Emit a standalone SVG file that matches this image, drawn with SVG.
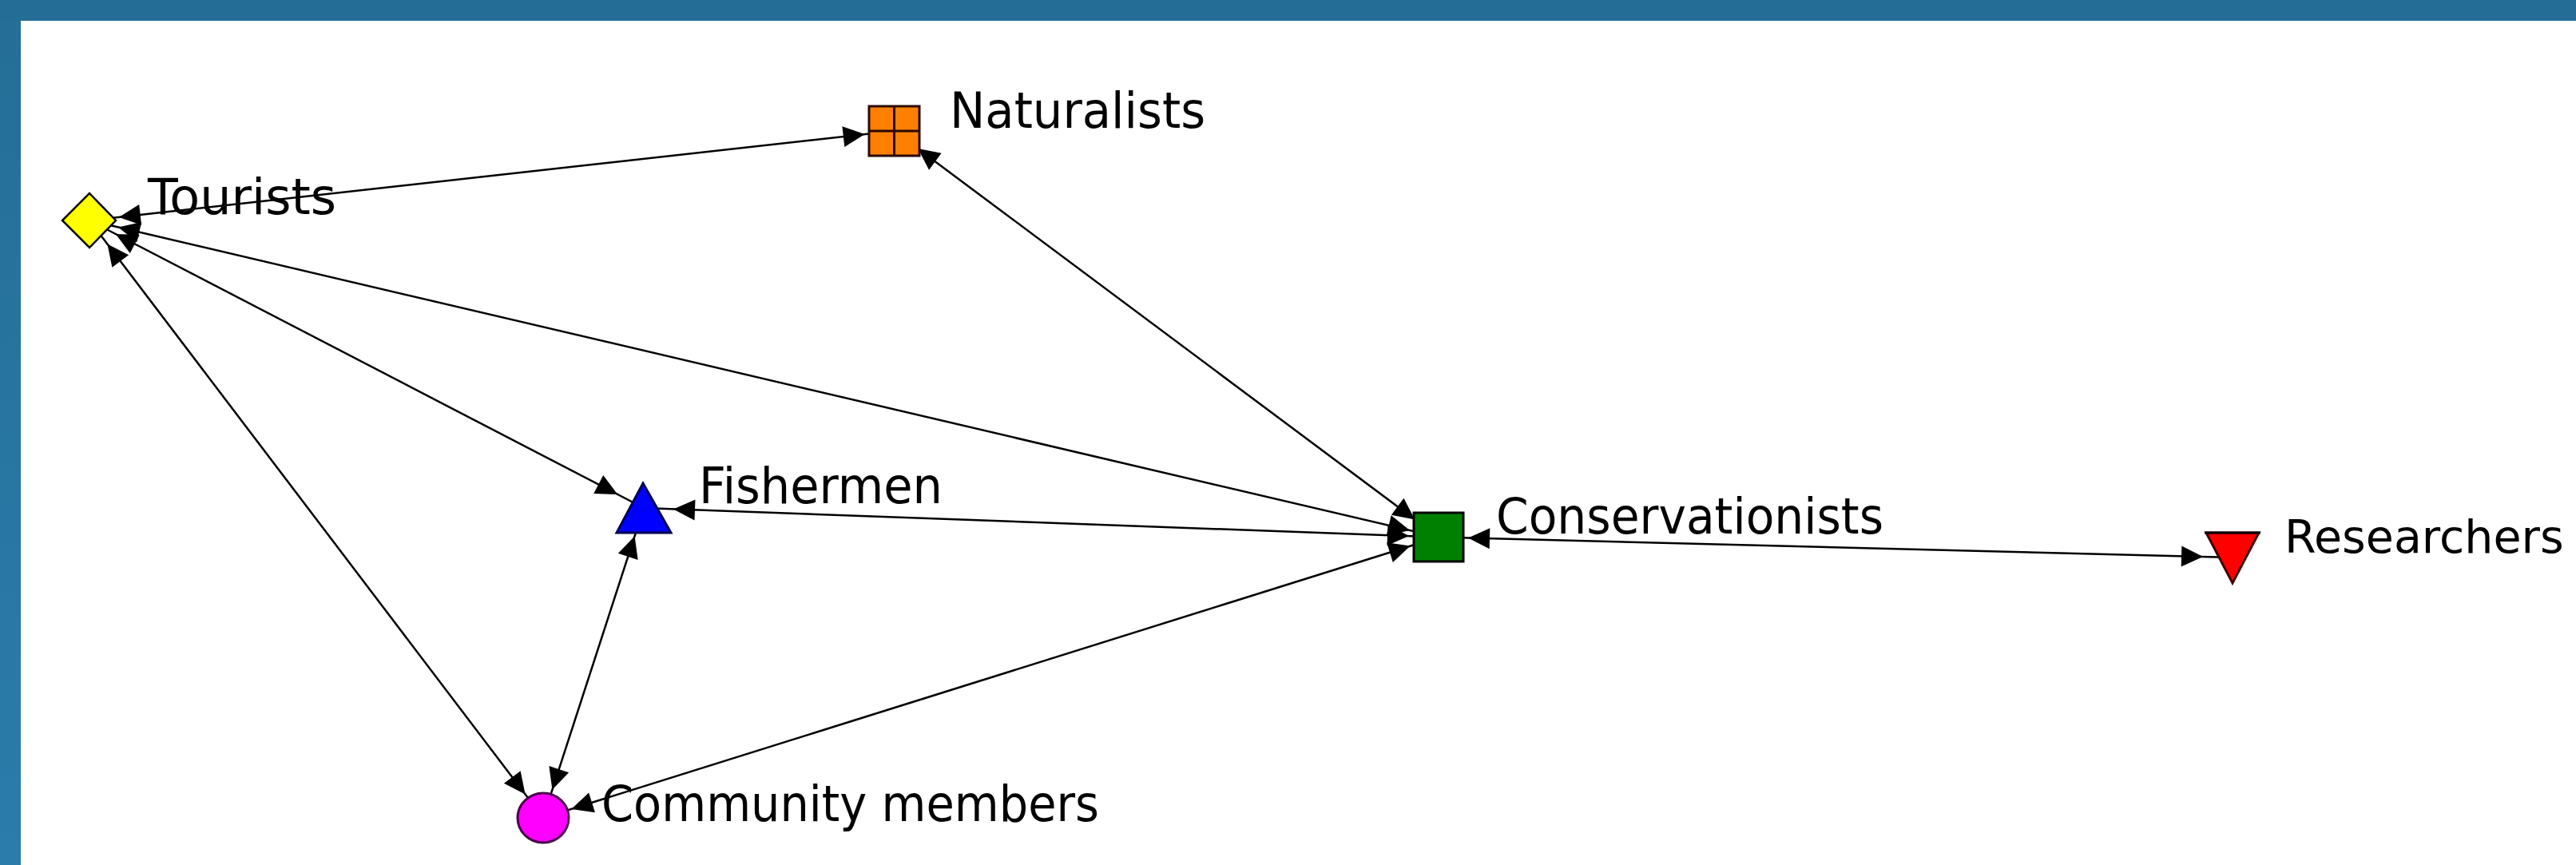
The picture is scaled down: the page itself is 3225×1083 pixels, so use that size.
<svg xmlns="http://www.w3.org/2000/svg" xmlns:xlink="http://www.w3.org/1999/xlink" width="3225" height="1083" viewBox="0 0 3225 1083">
  <defs>
    <linearGradient id="sideBand" x1="0" y1="0" x2="0" y2="1">
      <stop offset="0" stop-color="#246e97"/>
      <stop offset="1" stop-color="#2b7cab"/>
    </linearGradient>
    <!-- arrowhead: tip at origin, pointing along +x -->
    <polygon id="ah" points="0,0 -27,-13 -27,13" fill="#000"/>
  </defs>
  <style>
    .edge { stroke: #000; stroke-width: 2.5; fill: none; }
    .label { font-family: "DejaVu Sans", Verdana, sans-serif; font-size: 62px; fill: #000; }
    .label.narrow { font-size: 57px; }
  </style>

  <!-- page frame -->
  <rect x="0" y="0" width="3225" height="1083" fill="#ffffff"/>
  <rect x="0" y="0" width="26" height="1083" fill="url(#sideBand)"/>
  <rect x="0" y="0" width="3225" height="26" fill="#236d97"/>

  <g id="connectors">
    <!-- Tourists - Naturalists -->
    <line class="edge" x1="112" y1="276" x2="1119.5" y2="164"/>
    <use xlink:href="#ah" transform="translate(1082.7,168.1) rotate(-6.34)"/>
    <use xlink:href="#ah" transform="translate(148.8,271.9) rotate(173.66)"/>
    <!-- Tourists - Fishermen -->
    <line class="edge" x1="112" y1="276" x2="806" y2="636"/>
    <use xlink:href="#ah" transform="translate(773.2,619) rotate(27.42)"/>
    <use xlink:href="#ah" transform="translate(144.8,293) rotate(207.42)"/>
    <!-- Tourists - Conservationists -->
    <line class="edge" x1="112" y1="276" x2="1801" y2="672.5"/>
    <use xlink:href="#ah" transform="translate(1765,664) rotate(13.21)"/>
    <use xlink:href="#ah" transform="translate(148,284.5) rotate(193.21)"/>
    <!-- Tourists - Community members -->
    <line class="edge" x1="112" y1="276" x2="680" y2="1024"/>
    <use xlink:href="#ah" transform="translate(657.6,994.5) rotate(52.78)"/>
    <use xlink:href="#ah" transform="translate(134.4,305.5) rotate(232.78)"/>
    <!-- Naturalists - Conservationists -->
    <line class="edge" x1="1119.5" y1="164" x2="1801" y2="672.5"/>
    <use xlink:href="#ah" transform="translate(1771.3,650.4) rotate(36.73)"/>
    <use xlink:href="#ah" transform="translate(1149.2,186.1) rotate(216.73)"/>
    <!-- Fishermen - Conservationists -->
    <line class="edge" x1="806" y1="636" x2="1801" y2="672.5"/>
    <use xlink:href="#ah" transform="translate(1764,671.1) rotate(2.1)"/>
    <use xlink:href="#ah" transform="translate(843,637.4) rotate(182.1)"/>
    <!-- Fishermen - Community members -->
    <line class="edge" x1="806" y1="636" x2="680" y2="1024"/>
    <use xlink:href="#ah" transform="translate(691.4,988.8) rotate(108)"/>
    <use xlink:href="#ah" transform="translate(794.6,671.2) rotate(288)"/>
    <!-- Community members - Conservationists -->
    <line class="edge" x1="680" y1="1024" x2="1801" y2="672.5"/>
    <use xlink:href="#ah" transform="translate(1765.7,683.6) rotate(-17.41)"/>
    <use xlink:href="#ah" transform="translate(715.3,1012.9) rotate(162.59)"/>
    <!-- Conservationists - Researchers -->
    <line class="edge" x1="1801" y1="672.5" x2="2795" y2="698"/>
    <use xlink:href="#ah" transform="translate(2758,697.1) rotate(1.47)"/>
    <use xlink:href="#ah" transform="translate(1838,673.5) rotate(181.47)"/>
  </g>

  <g id="tourists">
    <polygon points="112,242 145,276 112,310 78,276" fill="#ffff00" stroke="#000" stroke-width="2.5"/>
    <text class="label" x="185" y="268" textLength="236" lengthAdjust="spacingAndGlyphs">Tourists</text>
  </g>

  <g id="naturalists">
    <rect x="1088" y="133" width="63" height="62" fill="#ff8000" stroke="#2a0800" stroke-width="3"/>
    <line x1="1119.5" y1="133" x2="1119.5" y2="195" stroke="#2a0800" stroke-width="3"/>
    <line x1="1088" y1="164" x2="1151" y2="164" stroke="#2a0800" stroke-width="3"/>
    <text class="label" x="1189" y="160" textLength="320" lengthAdjust="spacingAndGlyphs">Naturalists</text>
  </g>

  <g id="fishermen">
    <polygon points="805,605 840,667 772,667" fill="#0000ff" stroke="#000050" stroke-width="3"/>
    <text class="label" x="875" y="630" textLength="305" lengthAdjust="spacingAndGlyphs">Fishermen</text>
  </g>

  <g id="community-members">
    <ellipse cx="680" cy="1024" rx="32" ry="31" fill="#ff00ff" stroke="#4a004a" stroke-width="3"/>
    <text class="label" x="753" y="1028" textLength="623" lengthAdjust="spacingAndGlyphs">Community members</text>
  </g>

  <g id="conservationists">
    <rect x="1770" y="642" width="62" height="61" fill="#008000" stroke="#000" stroke-width="3"/>
    <text class="label" x="1873" y="668" textLength="485" lengthAdjust="spacingAndGlyphs">Conservationists</text>
  </g>

  <g id="researchers">
    <polygon points="2762,667 2828,667 2795,730" fill="#ff0000" stroke="#400000" stroke-width="3"/>
    <line x1="2760" y1="667" x2="2830" y2="667" stroke="#000" stroke-width="3"/>
    <text class="label narrow" x="2860" y="692">Researchers</text>
  </g>
</svg>
